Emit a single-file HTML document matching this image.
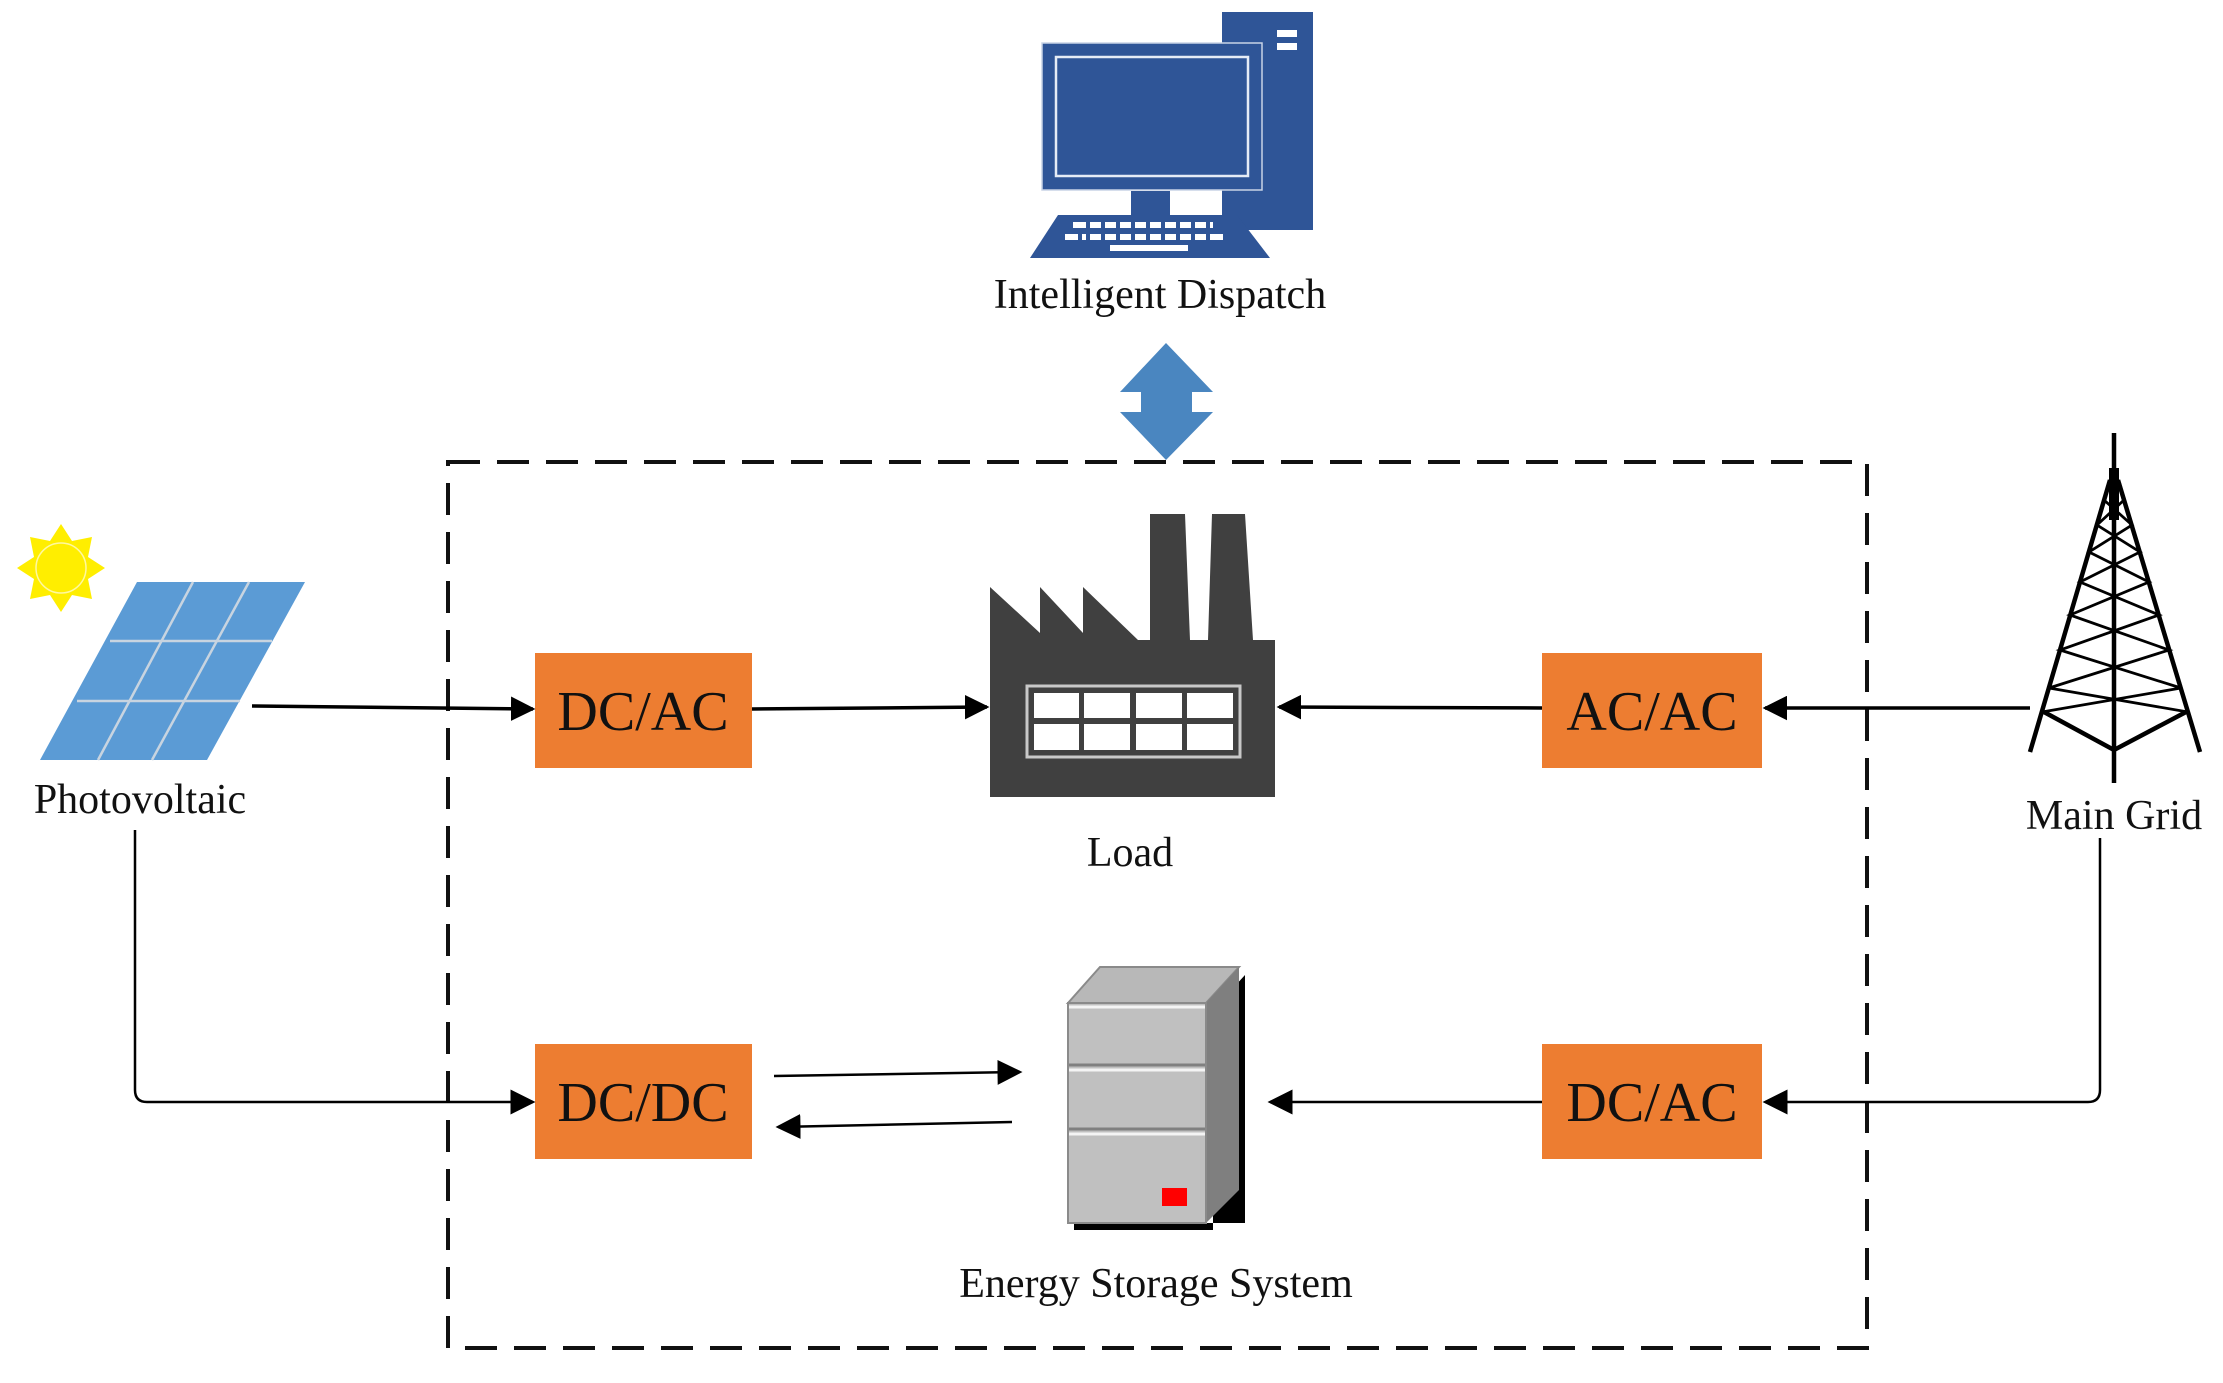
<!DOCTYPE html>
<html><head><meta charset="utf-8"><style>
html,body{margin:0;padding:0;background:#fff;}
svg{display:block;}
text{font-family:"Liberation Serif",serif;fill:#111;}
</style></head><body>
<svg width="2223" height="1383" viewBox="0 0 2223 1383" xmlns="http://www.w3.org/2000/svg">
<defs>
<marker id="ah" viewBox="0 0 10 10" refX="9" refY="5" markerWidth="7" markerHeight="7" markerUnits="strokeWidth" orient="auto"><path d="M0,0 L10,5 L0,10 z" fill="#000"/></marker>
<marker id="ah2" viewBox="0 0 10 10" refX="9" refY="5" markerWidth="10" markerHeight="10" markerUnits="strokeWidth" orient="auto"><path d="M0,0 L10,5 L0,10 z" fill="#000"/></marker>
</defs>

<rect x="448" y="462" width="1419" height="886" fill="none" stroke="#111" stroke-width="4" stroke-dasharray="32,17"/>

<!-- computer -->
<rect x="1222" y="12" width="91" height="218" fill="#2f5597"/>
<rect x="1277" y="30" width="20" height="7" fill="#fff"/>
<rect x="1277" y="43" width="20" height="7" fill="#fff"/>
<rect x="1042" y="43" width="220" height="147" fill="#2f5597" stroke="#c9d3e6" stroke-width="1.5"/>
<rect x="1056" y="57" width="192" height="119" fill="#2f5597" stroke="#e6ecf6" stroke-width="2.5"/>
<rect x="1131" y="191" width="39" height="24" fill="#2f5597"/>
<polygon points="1058,215 1237,215 1270,258 1030,258" fill="#2f5597"/>
<g fill="#fff">
<rect x="1073" y="222" width="140" height="6"/>
<rect x="1065" y="234" width="158" height="6"/>
<rect x="1110" y="245" width="78" height="6"/>
</g>
<g stroke="#2f5597" stroke-width="4">
<line x1="1088" y1="220" x2="1088" y2="242"/><line x1="1103" y1="220" x2="1103" y2="242"/><line x1="1118" y1="220" x2="1118" y2="242"/><line x1="1133" y1="220" x2="1133" y2="242"/><line x1="1148" y1="220" x2="1148" y2="242"/><line x1="1163" y1="220" x2="1163" y2="242"/><line x1="1178" y1="220" x2="1178" y2="242"/><line x1="1193" y1="220" x2="1193" y2="242"/><line x1="1208" y1="220" x2="1208" y2="242"/><line x1="1080" y1="232" x2="1080" y2="242"/>
</g>
<text x="1160" y="308" font-size="42" text-anchor="middle">Intelligent Dispatch</text>

<polygon points="1166,343 1213,392 1192,392 1192,412 1213,412 1166,460 1120,412 1141,412 1141,392 1120,392" fill="#4a86c0"/>

<!-- sun -->
<g transform="translate(61,568)">
<polygon fill="#ffee00" points="0,-44 11,-27 31,-31 27,-11 44,0 27,11 31,31 11,27 0,44 -11,27 -31,31 -27,11 -44,0 -27,-11 -31,-31 -11,-27"/>
<circle r="25" fill="#ffee00" stroke="#fff8a0" stroke-width="1.5"/>
</g>
<polygon points="137,582 305,582 207,760 40,760" fill="#5b9bd5"/>
<g stroke="#c8d4e0" stroke-width="2.5">
<line x1="110" y1="641" x2="272" y2="641"/>
<line x1="77" y1="701" x2="240" y2="701"/>
<line x1="193" y1="582" x2="98" y2="760"/>
<line x1="249" y1="582" x2="152" y2="760"/>
</g>
<text x="140" y="813" font-size="42" text-anchor="middle">Photovoltaic</text>

<!-- factory -->
<path d="M990,587 L1040,633 L1040,587 L1083,633 L1083,587 L1138,640 L1150,640 L1150,514 L1185,514 L1190,640 L1208,640 L1212,514 L1245,514 L1253,640 L1275,640 L1275,797 L990,797 Z" fill="#404040"/>
<rect x="1027" y="686" width="213" height="71" fill="none" stroke="#c8c8c8" stroke-width="3"/>
<g fill="#fff">
<rect x="1034" y="693" width="45" height="25"/><rect x="1084" y="693" width="46" height="25"/><rect x="1136" y="693" width="46" height="25"/><rect x="1187" y="693" width="46" height="25"/>
<rect x="1034" y="724" width="45" height="26"/><rect x="1084" y="724" width="46" height="26"/><rect x="1136" y="724" width="46" height="26"/><rect x="1187" y="724" width="46" height="26"/>
</g>
<text x="1130" y="866" font-size="42" text-anchor="middle">Load</text>

<!-- tower -->
<g stroke="#000" fill="none" stroke-width="4.5">
<line x1="2114" y1="433" x2="2114" y2="783"/>
<line x1="2110" y1="480" x2="2030" y2="752"/>
<line x1="2118" y1="480" x2="2200" y2="752"/>
<polyline points="2044,712 2114,750 2186,712"/>
<line x1="2114" y1="468" x2="2114" y2="520" stroke-width="10"/>
</g>
<g stroke="#000" stroke-width="2.8" fill="none">
<polyline points="2104,500 2132,525 2089,552 2149,582 2070,615 2169,650 2049,688 2188,712"/>
<polyline points="2124,500 2097,525 2140,552 2080,582 2159,615 2060,650 2181,688 2042,712"/>
</g>
<text x="2114" y="829" font-size="42" text-anchor="middle">Main Grid</text>

<!-- server -->
<polygon points="1074,1223 1245,1223 1245,975 1213,1010 1213,1230 1074,1230" fill="#000"/>
<polygon points="1068,1003 1100,967 1239,967 1206,1003" fill="#b8b8b8" stroke="#8a8a8a" stroke-width="2"/>
<polygon points="1206,1003 1239,967 1239,1190 1206,1223" fill="#7f7f7f"/>
<rect x="1068" y="1003" width="138" height="220" fill="#c0c0c0" stroke="#8a8a8a" stroke-width="2"/>
<g stroke="#808080" stroke-width="3"><line x1="1069" y1="1065" x2="1205" y2="1065"/><line x1="1069" y1="1129" x2="1205" y2="1129"/></g>
<g stroke="#f4f4f4" stroke-width="3"><line x1="1069" y1="1007" x2="1205" y2="1007"/><line x1="1069" y1="1070" x2="1205" y2="1070"/><line x1="1069" y1="1134" x2="1205" y2="1134"/></g>
<rect x="1162" y="1188" width="25" height="18" fill="#ff0000"/>
<text x="1156" y="1297" font-size="42" text-anchor="middle">Energy Storage System</text>

<g fill="#ed7d31">
<rect x="535" y="653" width="217" height="115"/>
<rect x="1542" y="653" width="220" height="115"/>
<rect x="535" y="1044" width="217" height="115"/>
<rect x="1542" y="1044" width="220" height="115"/>
</g>
<g font-size="56" text-anchor="middle">
<text x="643" y="730">DC/AC</text>
<text x="1652" y="730">AC/AC</text>
<text x="643" y="1121">DC/DC</text>
<text x="1652" y="1121">DC/AC</text>
</g>

<g stroke="#000" stroke-width="3.5" fill="none">
<line x1="252" y1="706" x2="533" y2="709" marker-end="url(#ah)"/>
<line x1="752" y1="709" x2="987" y2="707" marker-end="url(#ah)"/>
<line x1="1542" y1="708" x2="1279" y2="707" marker-end="url(#ah)"/>
<line x1="2030" y1="708" x2="1765" y2="708" marker-end="url(#ah)"/>
</g>
<g stroke="#000" stroke-width="2.5" fill="none">
<path d="M135,830 L135,1090 Q135,1102 147,1102 L533,1102" marker-end="url(#ah2)"/>
<path d="M2100,838 L2100,1090 Q2100,1102 2088,1102 L1765,1102" marker-end="url(#ah2)"/>
<line x1="1542" y1="1102" x2="1270" y2="1102" marker-end="url(#ah2)"/>
<line x1="774" y1="1076" x2="1020" y2="1072" marker-end="url(#ah2)"/>
<line x1="1012" y1="1122" x2="778" y2="1127" marker-end="url(#ah2)"/>
</g>
</svg>
</body></html>
